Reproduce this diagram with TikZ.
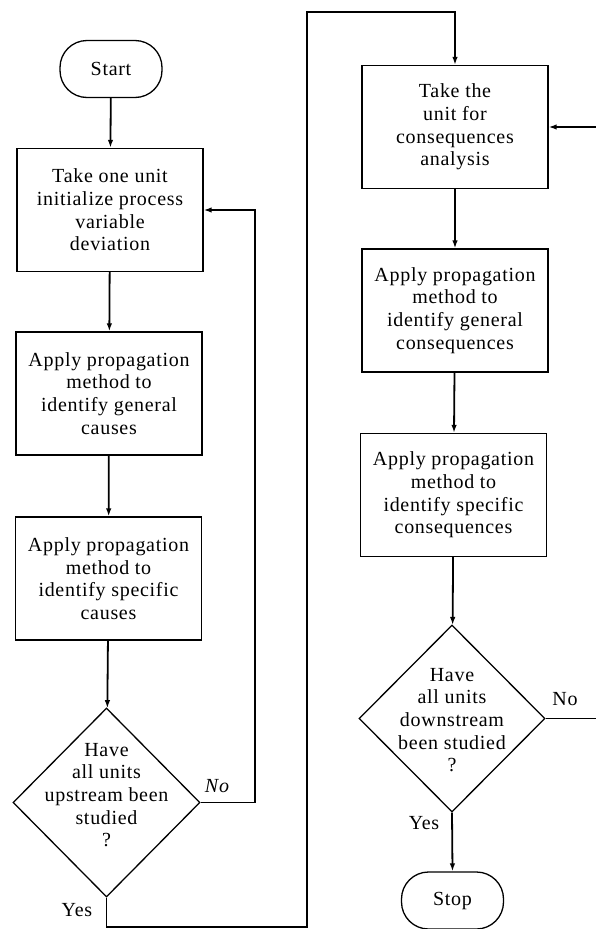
\documentclass[tikz,border=0pt]{standalone}
\usepackage{fontspec}
\setmainfont{Liberation Serif}[LetterSpace=3.5]
\usetikzlibrary{arrows.meta,shapes.geometric}

\tikzset{
  stepbox/.style={draw, line width=1.3pt, minimum width=186pt, minimum height=123pt,
    inner sep=0pt, align=center},
  terminal/.style={draw, line width=1.3pt, rounded corners=27pt, minimum width=102pt,
    minimum height=57pt, inner sep=0pt},
  decision/.style={draw, diamond, line width=1.3pt, inner sep=0pt},
  qtext/.style={align=center, inner sep=0pt},
  flow/.style={line width=1.8pt, -{Latex[length=8pt,width=5.5pt]}},
  plain/.style={line width=1.8pt},
  lbl/.style={inner sep=0pt}
}

\begin{document}
\begin{tikzpicture}[x=1pt, y=-1pt, font=\fontsize{20}{22.7}\selectfont]
\useasboundingbox (0,0) rectangle (596,929);
\clip (0,0) rectangle (596,929);

% left column: causes analysis
\node[terminal] (start) at (111,69) {Start};
\node[stepbox] (init) at (110,210) {Take one unit\\initialize process\\variable\\deviation};
\node[stepbox] (gencause) at (109,393.5) {Apply propagation\\method to\\identify general\\causes};
\node[stepbox] (speccause) at (108.5,578.5) {Apply propagation\\method to\\identify specific\\causes};
\node[decision, minimum width=187pt, minimum height=189pt] (up) at (106.5,802.5) {};
\node[qtext] (upq) at (106.5,795) {Have\\all units\\upstream been\\studied\\?};

% right column: consequences analysis
\node[stepbox] (take) at (455,127) {Take the\\unit for\\consequences\\analysis};
\node[stepbox] (gencons) at (455,310.5) {Apply propagation\\method to\\identify general\\consequences};
\node[stepbox] (speccons) at (453.5,495) {Apply propagation\\method to\\identify specific\\consequences};
\node[decision, minimum width=186pt, minimum height=187pt] (down) at (452,718.5) {};
\node[qtext] (downq) at (452,720) {Have\\all units\\downstream\\been studied\\?};
\node[terminal] (stop) at (452.5,900.5) {Stop};

% route points of the connectors
\coordinate (yesbot) at (307,927);
\coordinate (yestop) at (307,12);
\coordinate (noright) at (255,0);
\coordinate (edgelow) at (610,718.5);
\coordinate (edgehigh) at (610,127);

% main flow
\draw[flow] (start) -- (init);
\draw[flow] (init) -- (gencause);
\draw[flow] (gencause) -- (speccause);
\draw[flow] (speccause) -- (up);
\draw[flow] (up.east) -| (noright |- up.east) |- (init.east);
\draw[flow] (up.south) |- (yesbot) -- (yestop) -| (take.north);
\draw[flow] (take) -- (gencons);
\draw[flow] (gencons) -- (speccons);
\draw[flow] (speccons) -- (down);
\draw[flow] (down.south) -- (stop.north);
\draw[plain] (down.east) -- (edgelow);
\draw[flow] (edgehigh) -- (take.east);

% branch labels
\node[lbl] (noL) at (217,786) {\itshape No};
\node[lbl] (yesL) at (77,910) {Yes};
\node[lbl] (noR) at (565,699) {No};
\node[lbl] (yesR) at (424,823) {Yes};
\end{tikzpicture}
\end{document}
